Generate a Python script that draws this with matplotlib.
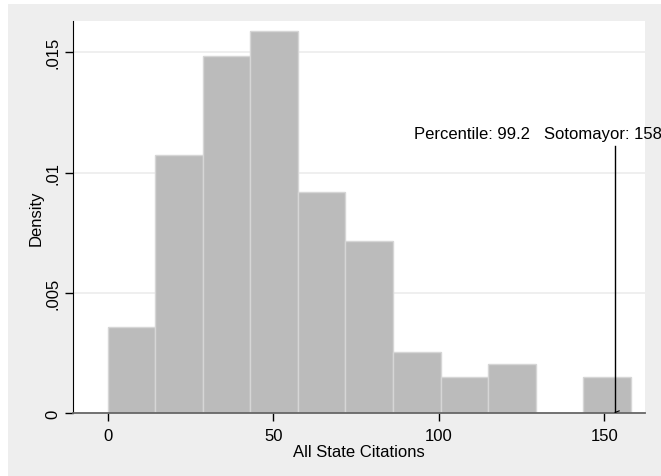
import numpy as np
import matplotlib.pyplot as plt
from matplotlib.patches import Rectangle

plt.rcParams['font.family'] = ['Liberation Sans', 'DejaVu Sans']

# histogram of all state citations, 11 bins over 0..158
bin_lo = 0.0
bin_hi = 158.0
n_bins = 11
density = [0.00357, 0.01075, 0.01483, 0.01587, 0.00921, 0.00717,
           0.00256, 0.00152, 0.00205, 0.0, 0.00152]
marker_x = 153.3
marker_top = 0.01112
label_left = "Percentile: 99.2"
label_right = "Sotomayor: 158"
xticks = [0, 50, 100, 150]
yticks = [0, 0.005, 0.01, 0.015]
ytick_labels = ["0", ".005", ".01", ".015"]

W, H = 661, 477
fig = plt.figure(figsize=(W / 100, H / 100), dpi=100)
fig.patch.set_facecolor('white')
# stata style outer gray region
bg = Rectangle((8 / W, 0), 1 - 8 / W, 1 - 5 / H, transform=fig.transFigure,
               facecolor='#eeeeee', edgecolor='none', zorder=-5)
fig.add_artist(bg)

ax = fig.add_axes([72.7 / W, 1 - 414.3 / H, (645 - 72.7) / W, (414.3 - 21.7) / H])
ax.set_facecolor('white')

edges = np.linspace(bin_lo, bin_hi, n_bins + 1)
width = edges[1] - edges[0]
ax.bar(edges[:-1], density, width=width, align='edge', color='#bbbbbb',
       edgecolor='#d6d6d6', linewidth=1, zorder=2)

ax.set_xlim(-10.54, 162.3)
ax.set_ylim(0, 0.01631)

for y in yticks[1:]:
    ax.axhline(y, color='#ececec', linewidth=1.2, zorder=1)

ax.plot([marker_x, marker_x], [0, marker_top], color='black', linewidth=1, zorder=3)
ax.plot([marker_x, marker_x + 1.2], [0.00004, 0.0001], color='black', linewidth=0.8, zorder=3)

ax.text(127.6, 0.01162, label_left, ha='right', va='center', fontsize=12,
        clip_on=False)
ax.text(131.8, 0.01162, label_right, ha='left', va='center', fontsize=12,
        clip_on=False)

for s in ['top', 'right']:
    ax.spines[s].set_visible(False)
ax.spines['left'].set_color('black')
ax.spines['bottom'].set_color('#666666')
ax.spines['bottom'].set_linewidth(1.3)

ax.set_xticks(xticks)
ax.set_xticklabels([str(t) for t in xticks], fontsize=12)
ax.set_yticks(yticks)
ax.set_yticklabels(ytick_labels, fontsize=12, rotation=90, va='center')
ax.tick_params(axis='both', direction='out', length=6, width=1, color='black')
ax.tick_params(axis='x', pad=4.5)
ax.tick_params(axis='y', pad=3)

ax.set_xlabel("All State Citations", fontsize=12, labelpad=0.5)
ax.set_ylabel("Density", fontsize=12, labelpad=1)

fig.savefig("out.png", dpi=100)
